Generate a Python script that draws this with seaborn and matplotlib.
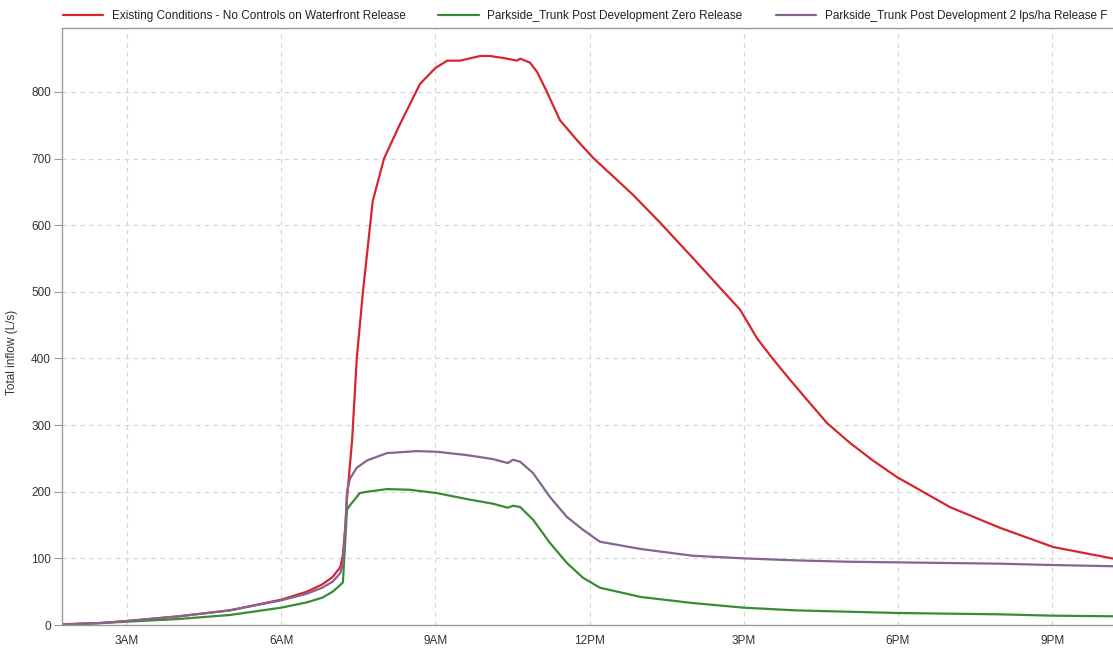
import matplotlib
matplotlib.use("Agg")
import matplotlib.pyplot as plt
from matplotlib.ticker import FixedLocator, FuncFormatter
import pandas as pd
import seaborn as sns

# Hydrograph values (time in decimal hours, flow in L/s)
red_hours = [1.74, 2.5, 3.0, 4.0, 5.0, 6.0, 6.5, 6.8, 7.0, 7.15, 7.2, 7.25, 7.28,
             7.38, 7.47, 7.59, 7.73, 7.78, 8.0, 8.3, 8.7, 9.0, 9.23, 9.48, 9.87,
             10.06, 10.32, 10.59, 10.65, 10.84, 10.98, 11.17, 11.42, 11.75, 12.07,
             12.84, 13.37, 14.09, 14.93, 15.26, 15.57, 15.9, 16.23, 16.62, 17.07,
             17.51, 17.98, 18.37, 19.01, 19.98, 21.02, 22.3]
red_flow = [1, 3, 6, 13, 22, 38, 50, 61, 72, 87, 105, 150, 190,
            278, 400, 500, 600, 636, 700, 750, 812, 836, 847, 847, 854,
            854, 851, 847, 850, 844, 830, 800, 758, 728, 701,
            646, 604, 544, 473, 430, 399, 368, 338, 303, 273,
            247, 222, 205, 177, 146, 117, 98]

purple_hours = [1.74, 2.5, 3.0, 4.0, 5.0, 6.0, 6.5, 6.8, 7.0, 7.15, 7.2, 7.25, 7.28,
                7.34, 7.47, 7.67, 8.06, 8.64, 9.03, 9.61, 10.12, 10.41, 10.51, 10.65,
                10.9, 11.23, 11.56, 11.87, 12.2, 13.0, 14.0, 15.0, 16.0, 17.0, 18.0,
                19.0, 20.0, 21.0, 22.3]
purple_flow = [1, 3, 6, 13, 22, 37, 47, 56, 65, 78, 93, 150, 200,
               220, 236, 247, 258, 261, 260, 255, 249, 243, 248, 245,
               228, 192, 162, 143, 125, 114, 104, 100, 97, 95, 94,
               93, 92, 90, 88]

green_hours = [1.74, 2.5, 3.0, 4.0, 5.0, 6.0, 6.5, 6.8, 7.0, 7.15, 7.2, 7.28,
               7.34, 7.53, 7.67, 8.06, 8.5, 9.03, 9.61, 10.12, 10.41, 10.51, 10.65,
               10.9, 11.23, 11.56, 11.87, 12.2, 13.0, 14.0, 15.0, 16.0, 17.0, 18.0,
               19.0, 20.0, 21.0, 22.3]
green_flow = [0.5, 3, 5, 9, 15, 26, 34, 41, 50, 60, 64, 173,
              180, 198, 200, 204, 203, 198, 189, 182, 176, 179, 177,
              158, 123, 93, 71, 56, 42, 33, 26, 22, 20, 18,
              17, 16, 14, 13]

# the last legend entry is cut at the right edge in the source picture
series_names = [
    "Existing Conditions - No Controls on Waterfront Release",
    "Parkside_Trunk Post Development Zero Release",
    "Parkside_Trunk Post Development 2 lps/ha Release F",
]
series_colors = ["#d6252f", "#3a8a35", "#85648f"]

x_ticks = [3, 6, 9, 12, 15, 18, 21]
y_ticks = [0, 100, 200, 300, 400, 500, 600, 700, 800]

frames = []
for name, hours, flow in zip(series_names,
                             [red_hours, green_hours, purple_hours],
                             [red_flow, green_flow, purple_flow]):
    frames.append(pd.DataFrame({"hour": hours, "flow": flow, "series": name}))
df = pd.concat(frames, ignore_index=True)

sns.set_theme(style="white")
plt.rcParams["font.family"] = ["Liberation Sans", "DejaVu Sans"]

fig = plt.figure(figsize=(11.13, 6.5), dpi=100)
ax = fig.add_axes([62 / 1113, 25 / 650, 1057 / 1113, 597 / 650])

sns.lineplot(data=df, x="hour", y="flow", hue="series", hue_order=series_names,
             palette=series_colors, linewidth=1.6, sort=True, estimator=None,
             legend=False, ax=ax)

ax.set_xlim(1.735, 22.30)
ax.set_ylim(0, 896)

def hour_label(h, pos):
    h = int(round(h))
    suffix = "AM" if h < 12 else "PM"
    h12 = h % 12 or 12
    return f"{h12}{suffix}"

ax.xaxis.set_major_locator(FixedLocator(x_ticks))
ax.xaxis.set_major_formatter(FuncFormatter(hour_label))
ax.yaxis.set_major_locator(FixedLocator(y_ticks))

ax.grid(True, color="#d4d4d4", linestyle=(0, (4, 4)), linewidth=0.8)
ax.set_axisbelow(True)

for side in ["left", "bottom", "top"]:
    ax.spines[side].set_color("#9a9a9a")
    ax.spines[side].set_linewidth(1.0)
ax.spines["right"].set_visible(False)

ax.tick_params(axis="y", length=6, width=0.8, color="#9a9a9a", pad=2,
               labelsize=8.5, labelcolor="#333333", left=True)
ax.tick_params(axis="x", length=0, pad=7, labelsize=8.5, labelcolor="#333333")

ax.set_xlabel("")
ax.set_ylabel("Total inflow (L/s)", fontsize=8.5, color="#333333")
ax.yaxis.set_label_coords(-0.042, 0.457)

handles = [plt.Line2D([], [], color=c, linewidth=1.6) for c in series_colors]
fig.legend(handles, series_names, loc="center left", ncol=3,
           bbox_to_anchor=(52 / 1113, 1 - 16 / 650), frameon=False,
           fontsize=8.5, handlelength=3.4, handletextpad=0.75, columnspacing=2.8,
           labelcolor="#222222")

fig.savefig("out.png", dpi=100)
